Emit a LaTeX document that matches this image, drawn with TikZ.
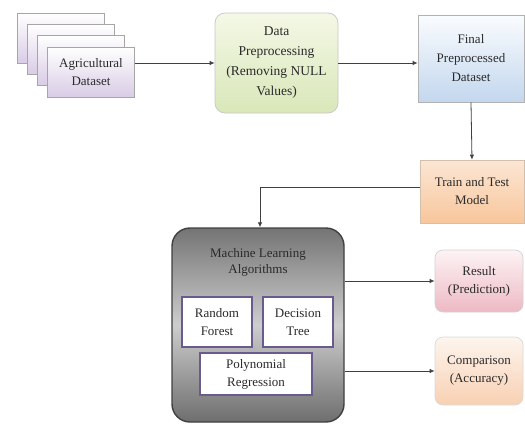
\documentclass[tikz,border=0pt]{standalone}
\usepackage{fontspec}
\setmainfont{Liberation Serif}
\usetikzlibrary{arrows.meta}
\definecolor{txt}{HTML}{2A2A2A}
\definecolor{agtop}{HTML}{FFFFFF}
\definecolor{agbot}{HTML}{D9CCE6}
\definecolor{dptop}{HTML}{F4F8E6}
\definecolor{dpbot}{HTML}{D9E7B9}
\definecolor{fntop}{HTML}{FAFCFE}
\definecolor{fnbot}{HTML}{C3D7EE}
\definecolor{trtop}{HTML}{FCE6D4}
\definecolor{trbot}{HTML}{F8C69C}
\definecolor{mltop}{HTML}{747474}
\definecolor{mlmid}{HTML}{CDCDCD}
\definecolor{mlbot}{HTML}{6E6E6E}
\definecolor{rstop}{HTML}{FDF3F5}
\definecolor{rsbot}{HTML}{EDB9C4}
\definecolor{cmtop}{HTML}{FDF5EE}
\definecolor{cmbot}{HTML}{F8D0B2}
\definecolor{inb}{HTML}{6B5A8E}
\definecolor{lin}{HTML}{404040}
\tikzset{
  base/.style={text=txt, align=center, inner sep=2pt},
  agbox/.style={base, draw=gray!70, line width=0.7pt, top color=agtop, bottom color=agbot,
    minimum width=87pt, minimum height=50pt, font=\fontsize{13}{18}\selectfont},
  dpbox/.style={base, draw=gray!45, line width=0.7pt, top color=dptop, bottom color=dpbot,
    rounded corners=10pt, minimum width=123pt, minimum height=100pt, font=\fontsize{13.5}{20}\selectfont},
  fnbox/.style={base, draw=gray!60, line width=0.7pt, top color=fntop, bottom color=fnbot,
    minimum width=106pt, minimum height=87pt, font=\fontsize{13}{19}\selectfont},
  trbox/.style={base, draw=orange!30!gray!50, line width=0.7pt, top color=trtop, bottom color=trbot,
    minimum width=104pt, minimum height=63pt, font=\fontsize{13}{18}\selectfont},
  mlbox/.style={draw=lin, line width=1.4pt, top color=mltop, bottom color=mlbot, middle color=mlmid,
    rounded corners=18pt, minimum width=172pt, minimum height=194pt},
  inbox/.style={base, draw=inb, line width=1.3pt, fill=white, font=\fontsize{13}{18}\selectfont},
  rsbox/.style={base, draw=gray!35, line width=0.7pt, top color=rstop, bottom color=rsbot,
    rounded corners=8pt, minimum width=88pt, minimum height=62pt, font=\fontsize{13}{18}\selectfont},
  cmbox/.style={base, draw=gray!30, line width=0.7pt, top color=cmtop, bottom color=cmbot,
    rounded corners=8pt, minimum width=88pt, minimum height=68pt, font=\fontsize{13}{18}\selectfont},
  arr/.style={draw=lin, line width=0.8pt, -{Latex[length=5pt,width=4.5pt]}},
  con/.style={draw=lin, line width=0.8pt}
}
\begin{document}
\begin{tikzpicture}[x=1pt,y=-1pt]
\useasboundingbox (0,0) rectangle (525,424);
% agricultural stack
\node[agbox] (ag1) at (60.5,38) {};
\node[agbox] (ag2) at (70.5,49) {};
\node[agbox] (ag3) at (80.5,60) {};
\node[agbox] (ag) at (91,72) {Agricultural\\Dataset};
% data preprocessing
\node[dpbox] (dp) at (276.5,63) {Data\\Preprocessing\\(Removing NULL\\Values)};
% final
\node[fnbox] (fn) at (471,58.5) {Final\\Preprocessed\\Dataset};
% train
\node[trbox] (tr) at (472,191.5) {Train and Test\\Model};
% ML
\node[mlbox] (ml) at (258,325) {};
\node[base, font=\fontsize{13}{16}\selectfont] (mlt) at (258,262) {Machine Learning\\Algorithms};
\node[inbox, minimum width=70pt, minimum height=50pt] (rf) at (217,322) {Random\\Forest};
\node[inbox, minimum width=70pt, minimum height=50pt] (dt) at (298,322) {Decision\\Tree};
\node[inbox, minimum width=112pt, minimum height=42pt] (pr) at (256,374) {Polynomial\\Regression};
% outputs
\node[rsbox] (rs) at (479,281) {Result\\(Prediction)};
\node[cmbox] (cm) at (479,371) {Comparison\\(Accuracy)};
% connectors
\coordinate (bend) at (260,187);
\draw[arr] (ag.east |- dp.west) -- (dp.west);
\draw[arr] (dp.east) -- (fn.west |- dp.east);
\draw[arr] (fn.south) -- (tr.north);
\draw[con] (tr.west |- bend) -- (bend);
\draw[arr] (bend) -- (bend |- ml.north);
\draw[arr] (ml.east |- rs.west) -- (rs.west);
\draw[arr] (ml.east |- cm.west) -- (cm.west);
\end{tikzpicture}
\end{document}
